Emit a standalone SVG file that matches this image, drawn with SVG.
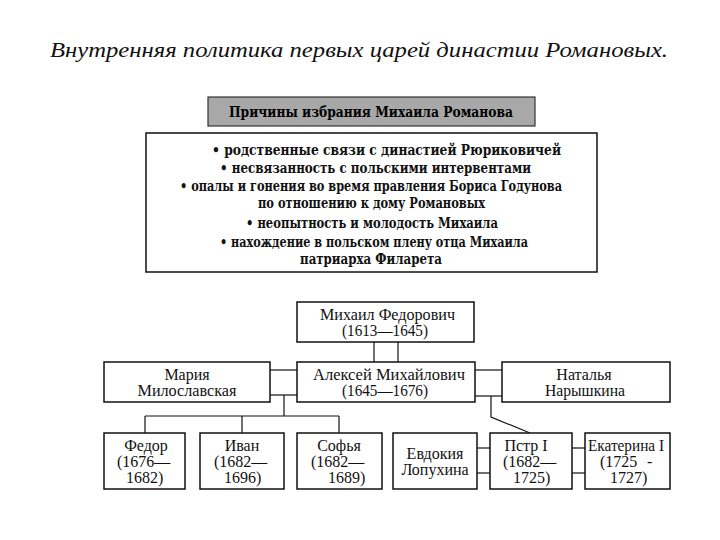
<svg xmlns="http://www.w3.org/2000/svg" width="720" height="540" viewBox="0 0 720 540">
<style>
.title{font-family:"Liberation Serif","DejaVu Serif",serif;font-style:italic;font-size:22px;fill:#111}
.hdr{font-family:"DejaVu Serif","Liberation Serif",serif;font-weight:bold;font-size:15px;fill:#000}
.rs{font-family:"DejaVu Serif","Liberation Serif",serif;font-weight:bold;font-size:14px;fill:#111}
.nd{font-family:"Liberation Serif","DejaVu Serif",serif;font-size:16px;fill:#111}
.box{fill:#fff;stroke:#111;stroke-width:1.5}
.con line,.con polyline{stroke:#111;stroke-width:1.2;fill:none}
</style>
<rect width="720" height="540" fill="#fff"/>
<text class="title" x="50" y="57" textLength="618" lengthAdjust="spacingAndGlyphs">Внутренняя политика первых царей династии  Романовых.</text>

<g id="reasons-header">
<rect x="208" y="97" width="327" height="29" fill="#a8a8a8" stroke="#333" stroke-width="1.2"/>
<text class="hdr" x="229" y="117" textLength="284" lengthAdjust="spacingAndGlyphs">Причины избрания Михаила Романова</text>
</g>
<g id="reasons">
<rect x="146" y="133" width="451" height="139" fill="#fff" stroke="#111" stroke-width="1.5"/>
<text class="rs" x="212" y="155" textLength="349" lengthAdjust="spacingAndGlyphs">• родственные связи с династией Рюриковичей</text>
<text class="rs" x="220" y="173" textLength="311" lengthAdjust="spacingAndGlyphs">• несвязанность с польскими интервентами</text>
<text class="rs" x="180" y="191" textLength="382" lengthAdjust="spacingAndGlyphs">• опалы и гонения во время правления Бориса Годунова</text>
<text class="rs" x="258" y="208" textLength="227" lengthAdjust="spacingAndGlyphs">по отношению к дому Романовых</text>
<text class="rs" x="246" y="228" textLength="252" lengthAdjust="spacingAndGlyphs">• неопытность и молодость Михаила</text>
<text class="rs" x="220" y="247" textLength="308" lengthAdjust="spacingAndGlyphs">• нахождение в польском плену отца Михаила</text>
<text class="rs" x="300" y="264" textLength="142" lengthAdjust="spacingAndGlyphs">патриарха Филарета</text>
</g>

<g id="connectors" class="con">
<line x1="374" y1="342" x2="374" y2="363"/>
<line x1="398" y1="342" x2="398" y2="363"/>
<line x1="270" y1="370" x2="297" y2="370"/>
<line x1="270" y1="395" x2="297" y2="395"/>
<line x1="475" y1="370" x2="502" y2="370"/>
<line x1="475" y1="396" x2="502" y2="396"/>
<line x1="284" y1="395" x2="284" y2="416"/>
<line x1="145" y1="416" x2="339" y2="416"/>
<line x1="145" y1="416" x2="145" y2="433"/>
<line x1="242" y1="416" x2="242" y2="433"/>
<line x1="339" y1="416" x2="339" y2="433"/>
<polyline points="491,396 491,417 530,433"/>
<line x1="477" y1="448" x2="490" y2="448"/>
<line x1="477" y1="473" x2="490" y2="473"/>
<line x1="572" y1="448" x2="585" y2="448"/>
<line x1="572" y1="473" x2="585" y2="473"/>
</g>

<g id="mikhail">
<rect class="box" x="297" y="302" width="177" height="40"/>
<text class="nd" x="320" y="320" textLength="135" lengthAdjust="spacingAndGlyphs">Михаил Федорович</text>
<text class="nd" x="342" y="336" textLength="86" lengthAdjust="spacingAndGlyphs">(1613—1645)</text>
</g>
<g id="maria">
<rect class="box" x="104" y="362" width="166" height="40"/>
<text class="nd" x="187" y="380" text-anchor="middle">Мария</text>
<text class="nd" x="187" y="396" text-anchor="middle" textLength="99" lengthAdjust="spacingAndGlyphs">Милославская</text>
</g>
<g id="aleksey">
<rect class="box" x="297" y="362" width="178" height="40"/>
<text class="nd" x="313" y="380" textLength="152" lengthAdjust="spacingAndGlyphs">Алексей Михайлович</text>
<text class="nd" x="342" y="396" textLength="86" lengthAdjust="spacingAndGlyphs">(1645—1676)</text>
</g>
<g id="natalya">
<rect class="box" x="502" y="362" width="168" height="40"/>
<text class="nd" x="584" y="380" text-anchor="middle">Наталья</text>
<text class="nd" x="585" y="396" text-anchor="middle" textLength="80" lengthAdjust="spacingAndGlyphs">Нарышкина</text>
</g>

<g id="fedor">
<rect class="box" x="104" y="433" width="81" height="56"/>
<text class="nd" x="146" y="451" text-anchor="middle">Федор</text>
<text class="nd" x="117" y="467">(1676—</text>
<text class="nd" x="126" y="483">1682)</text>
</g>
<g id="ivan">
<rect class="box" x="200" y="433" width="84" height="56"/>
<text class="nd" x="242" y="451" text-anchor="middle">Иван</text>
<text class="nd" x="214" y="467">(1682—</text>
<text class="nd" x="224" y="483">1696)</text>
</g>
<g id="sofya">
<rect class="box" x="297" y="433" width="85" height="56"/>
<text class="nd" x="339" y="451" text-anchor="middle">Софья</text>
<text class="nd" x="311" y="467">(1682—</text>
<text class="nd" x="328" y="483">1689)</text>
</g>
<g id="evdokiya">
<rect class="box" x="393" y="433" width="84" height="56"/>
<text class="nd" x="435" y="459" text-anchor="middle">Евдокия</text>
<text class="nd" x="435" y="475" text-anchor="middle">Лопухина</text>
</g>
<g id="petr">
<rect class="box" x="490" y="433" width="82" height="56"/>
<text class="nd" x="526" y="451" text-anchor="middle">Пстр I</text>
<text class="nd" x="503" y="467">(1682—</text>
<text class="nd" x="513" y="483">1725)</text>
</g>
<g id="ekaterina">
<rect class="box" x="585" y="433" width="85" height="56"/>
<text class="nd" x="588" y="451" textLength="76" lengthAdjust="spacingAndGlyphs">Екатерина I</text>
<text class="nd" x="600" y="467">(1725<tspan x="647">-</tspan></text>
<text class="nd" x="610" y="483">1727)</text>
</g>
</svg>
